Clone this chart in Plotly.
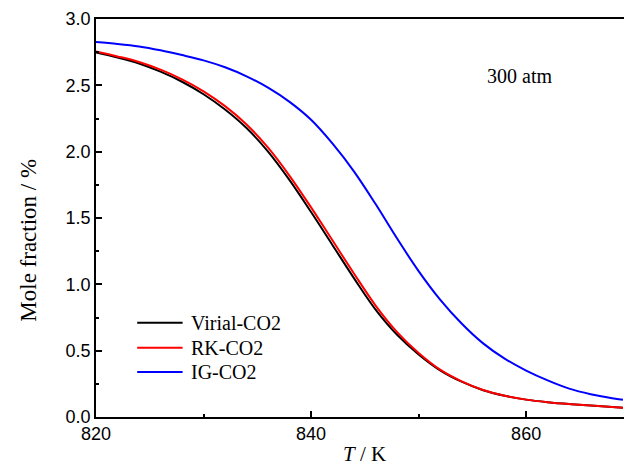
import plotly.graph_objects as go

# Temperature grid (K)
temperature = [820, 822, 824, 826, 828, 830, 832, 834, 836, 838, 840, 842, 844,
               846, 848, 850, 852, 854, 856, 858, 860, 862, 864, 866, 868, 869]

# CO2 mole fraction (%) for each equation of state, 300 atm
virial_co2 = [2.748, 2.71, 2.665, 2.603, 2.527, 2.433, 2.318, 2.178, 2.0, 1.785,
              1.545, 1.295, 1.045, 0.81, 0.62, 0.472, 0.352, 0.266, 0.202, 0.16,
              0.131, 0.112, 0.098, 0.087, 0.075, 0.07]
rk_co2 = [2.755, 2.718, 2.676, 2.618, 2.545, 2.455, 2.343, 2.205, 2.03, 1.818,
          1.58, 1.33, 1.08, 0.84, 0.64, 0.483, 0.357, 0.269, 0.204, 0.16,
          0.131, 0.112, 0.098, 0.087, 0.075, 0.07]
ig_co2 = [2.826, 2.812, 2.793, 2.764, 2.728, 2.688, 2.636, 2.568, 2.482, 2.375,
          2.24, 2.06, 1.85, 1.605, 1.345, 1.1, 0.885, 0.705, 0.555, 0.44,
          0.35, 0.276, 0.214, 0.172, 0.142, 0.13]

series = [
    ("Virial-CO2", virial_co2, "#000000"),
    ("RK-CO2", rk_co2, "#ff0000"),
    ("IG-CO2", ig_co2, "#0000ff"),
]

SERIF = "Liberation Serif, Times New Roman, serif"
SANS = "Liberation Sans, Arial, sans-serif"

fig = go.Figure()
for name, values, color in series:
    fig.add_trace(go.Scatter(x=temperature, y=values, mode="lines", name=name,
                             line=dict(color=color, width=2, shape="spline",
                                       smoothing=1.0),
                             showlegend=False))

# Hand-drawn legend block (longer line samples than the built-in legend)
legend_y = [0.237, 0.174, 0.113]
shapes = []
annotations = []
for (name, _, color), ly in zip(series, legend_y):
    shapes.append(dict(type="line", xref="paper", yref="paper",
                       x0=0.078, x1=0.164, y0=ly, y1=ly,
                       line=dict(color=color, width=2)))
    annotations.append(dict(x=0.176, y=ly, xref="paper", yref="paper",
                            text=name, showarrow=False, xanchor="left",
                            yanchor="middle",
                            font=dict(family=SERIF, size=20, color="black")))

annotations.append(dict(x=859.4, y=2.57, xref="x", yref="y", text="300 atm",
                        showarrow=False, xanchor="center", yanchor="middle",
                        font=dict(family=SERIF, size=20, color="black")))
annotations.append(dict(x=845, y=-0.093, xref="x", yref="paper",
                        text="<i>T</i> / K", showarrow=False,
                        xanchor="center", yanchor="middle",
                        font=dict(family=SERIF, size=21, color="black")))
annotations.append(dict(x=-0.127, y=1.336, xref="paper", yref="y",
                        text="Mole fraction / %", showarrow=False,
                        textangle=-90, xanchor="center", yanchor="middle",
                        font=dict(family=SERIF, size=23, color="black")))

fig.update_layout(
    width=624, height=467,
    margin=dict(l=96, r=0, t=19, b=50),
    paper_bgcolor="white", plot_bgcolor="white",
    shapes=shapes, annotations=annotations,
    showlegend=False,
)

fig.update_xaxes(
    range=[820, 869.1], tickvals=[820, 840, 860],
    ticks="inside", ticklen=6.5, tickwidth=1.5, tickcolor="black",
    minor=dict(tickvals=[830, 850], ticks="inside", ticklen=3.5,
               tickwidth=1.5, tickcolor="black"),
    showline=True, linecolor="black", linewidth=1.5, mirror=True,
    showgrid=False, zeroline=False,
    tickfont=dict(family=SANS, size=18, color="black"),
)
fig.update_yaxes(
    range=[0, 3], tickvals=[0, 0.5, 1.0, 1.5, 2.0, 2.5, 3.0],
    ticktext=["0.0", "0.5", "1.0", "1.5", "2.0", "2.5", "3.0"],
    ticks="inside", ticklen=6.5, tickwidth=1.5, tickcolor="black",
    minor=dict(tickvals=[0.25, 0.75, 1.25, 1.75, 2.25, 2.75], ticks="inside",
               ticklen=3.5, tickwidth=1.5, tickcolor="black"),
    showline=True, linecolor="black", linewidth=1.5, mirror=False,
    showgrid=False, zeroline=False,
    tickfont=dict(family=SANS, size=18, color="black"),
)

fig.write_html("out.html")
